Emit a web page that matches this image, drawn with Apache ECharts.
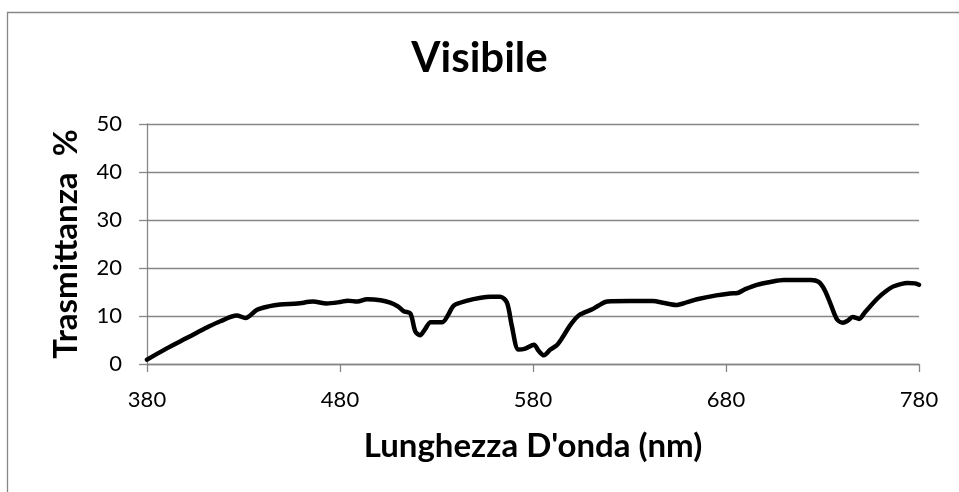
<!DOCTYPE html>
<html>
<head>
<meta charset="utf-8">
<script src="https://cdn.jsdelivr.net/npm/echarts@6/dist/echarts.min.js"></script>
<style>
html,body{margin:0;padding:0;background:#fff;}
#chart{width:959px;height:492px;}
</style>
</head>
<body>
<div id="chart"></div>
<script>
var wavelengths = [380,390,400,405.8,412,418,426.5,431,437,443,449,458,466,473,480,484,489,494,501,506,510,513,516.5,519,521.5,524,527,533,536,539,546,553,558,563,566.5,569,572.5,576,580.5,583,585.6,589,592.6,596,599.5,604,610.7,614,618.5,630,642,648,654,660,665,675,682,686,690,696,703,710,724,728,731,734,737.5,740.5,743,745.6,749,752,758.6,763,767,774,778,780];
var transmittance = [0.9,3.2,5.3,6.5,7.8,8.9,10.1,9.6,11.3,12.0,12.4,12.6,13.0,12.6,12.9,13.2,13.0,13.5,13.3,12.8,12.0,11.0,10.5,6.8,6.0,7.2,8.7,8.7,10.2,12.2,13.2,13.8,14.0,14.0,12.8,8.0,3.0,3.2,4.0,2.7,1.8,3.0,4.0,6.0,8.2,10.2,11.4,12.2,13.0,13.1,13.1,12.7,12.3,12.9,13.5,14.3,14.7,14.8,15.6,16.5,17.1,17.5,17.5,17.1,15.5,12.7,9.3,8.6,9.0,9.8,9.4,10.8,13.7,15.2,16.2,16.9,16.8,16.5];
var chartTitle = 'Visibile';
var xTitle = "Lunghezza D'onda (nm)";
var yTitle = 'Trasmittanza  %';

var points = wavelengths.map(function(w,i){ return [w, transmittance[i]]; });
var FONT = 'Lato';
var chart = echarts.init(document.getElementById('chart'), null, {renderer:'canvas'});
chart.setOption({
  animation:false,
  backgroundColor:'#fff',
  title:{
    text:chartTitle, left:'center', top:32,
    textStyle:{fontFamily:FONT, fontWeight:'bold', fontSize:42, color:'#000'}
  },
  graphic:[{
    type:'rect', silent:true,
    shape:{x:7.5, y:12.5, width:1000, height:600},
    style:{fill:null, stroke:'#878787', lineWidth:1.3}
  }],
  grid:{left:147, right:40, top:124, bottom:128},
  xAxis:{
    type:'value', min:380, max:780, interval:100,
    name:xTitle, nameLocation:'middle', nameGap:66,
    nameTextStyle:{fontFamily:FONT, fontWeight:'bold', fontSize:33, color:'#000'},
    axisLine:{show:true, onZero:false, lineStyle:{color:'#868686', width:1.3}},
    axisTick:{show:true, length:8, lineStyle:{color:'#868686', width:1.3}},
    axisLabel:{fontFamily:FONT, fontSize:22, color:'#000', margin:25},
    splitLine:{show:false}
  },
  yAxis:{
    type:'value', min:0, max:50, interval:10,
    name:yTitle, nameLocation:'middle', nameGap:64,
    nameTextStyle:{fontFamily:FONT, fontWeight:'bold', fontSize:33, color:'#000'},
    axisLine:{show:true, lineStyle:{color:'#868686', width:1.3}},
    axisTick:{show:true, length:8, lineStyle:{color:'#868686', width:1.3}},
    axisLabel:{fontFamily:FONT, fontSize:22, color:'#000', margin:25},
    splitLine:{show:true, lineStyle:{color:'#868686', width:1.3}}
  },
  series:[{
    type:'line', data:points, smooth:0.3, showSymbol:false,
    lineStyle:{color:'#000', width:4.5, join:'round', cap:'round'}
  }]
});
</script>
</body>
</html>
